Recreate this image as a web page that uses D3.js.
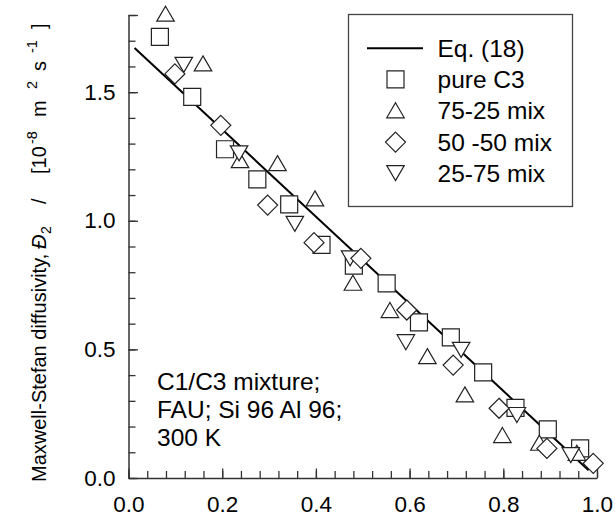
<!DOCTYPE html>
<html><head><meta charset="utf-8">
<script src="https://cdn.jsdelivr.net/npm/d3@7"></script>
<style>body{margin:0;background:#fff}svg text{font-family:Arial,"Liberation Sans",sans-serif;fill:#000}</style>
</head><body><svg id="c" width="615" height="519"></svg>
<script>
// ---- data ----
const eqX = [0.013, 0.982];
const eqY = [1.672, 0.030];
const pureC3X = [0.067, 0.136, 0.206, 0.275, 0.343, 0.412, 0.481, 0.551, 0.620, 0.688, 0.757, 0.826, 0.895, 0.964];
const pureC3Y = [1.715, 1.482, 1.278, 1.161, 1.064, 0.906, 0.826, 0.757, 0.605, 0.547, 0.411, 0.273, 0.189, 0.115];
const mix7525X = [0.079, 0.159, 0.238, 0.318, 0.398, 0.479, 0.558, 0.638, 0.718, 0.798, 0.877, 0.957];
const mix7525Y = [1.805, 1.612, 1.236, 1.224, 1.087, 0.759, 0.653, 0.474, 0.325, 0.167, 0.137, 0.098];
const mix5050X = [0.099, 0.197, 0.297, 0.396, 0.496, 0.594, 0.693, 0.791, 0.893, 0.992];
const mix5050Y = [1.571, 1.371, 1.061, 0.915, 0.854, 0.653, 0.439, 0.271, 0.115, 0.057];
const mix2575X = [0.118, 0.236, 0.355, 0.473, 0.592, 0.710, 0.829, 0.944];
const mix2575Y = [1.606, 1.262, 0.988, 0.854, 0.528, 0.498, 0.245, 0.089];
const xMajorTicks = [0, 0.2, 0.4, 0.6, 0.8, 1.0];
const xTickLabels = ["0.0", "0.2", "0.4", "0.6", "0.8", "1.0"];
const yMajorTicks = [0, 0.5, 1.0, 1.5];
const yTickLabels = ["0.0", "0.5", "1.0", "1.5"];
const legendLabels = ["Eq. (18)", "pure C3", "75-25 mix", "50 -50 mix", "25-75 mix"];
const noteLines = ["C1/C3 mixture;", "FAU; Si 96 Al 96;", "300 K"];

// ---- drawing ----
const svg = d3.select("#c");
const x = d3.scaleLinear().domain([0, 1]).range([128.5, 597]);
const y = d3.scaleLinear().domain([0, 1.8]).range([478, 15]);

const xMinor = d3.range(0, 1.0001, 0.04).map(v => +v.toFixed(2));
const yMinor = d3.range(0, 1.8001, 0.1).map(v => +v.toFixed(1));

// minor ticks
svg.append("g").attr("transform", `translate(0,${y(0)})`)
  .call(d3.axisBottom(x).tickValues(xMinor).tickSize(-7).tickSizeOuter(0).tickFormat(""))
  .call(g => g.select(".domain").remove());
svg.append("g").attr("transform", `translate(${x(0)},0)`)
  .call(d3.axisLeft(y).tickValues(yMinor).tickSize(-7).tickSizeOuter(0).tickFormat(""))
  .call(g => g.select(".domain").remove());
// major ticks + labels
svg.append("g").attr("transform", `translate(0,${y(0)})`)
  .call(d3.axisBottom(x).tickValues(xMajorTicks).tickSize(-9.5).tickSizeOuter(0).tickPadding(18)
    .tickFormat((d, i) => xTickLabels[i]));
svg.append("g").attr("transform", `translate(${x(0)},0)`)
  .call(d3.axisLeft(y).tickValues(yMajorTicks.concat([1.8])).tickSize(-9.5).tickSizeOuter(0).tickPadding(13)
    .tickFormat(d => { const i = yMajorTicks.indexOf(d); return i < 0 ? "" : yTickLabels[i]; }));
svg.selectAll(".tick line, .domain").attr("stroke", "#333").attr("stroke-width", 1.3);
svg.selectAll(".tick text").attr("font-size", 22.5).attr("font-family", "Arial, 'Liberation Sans', sans-serif");
svg.selectAll(".domain").attr("stroke-width", 1.5);

// marker shapes
const shape = {
  square: (s = 17) => `M${-s/2},${-s/2}h${s}v${s}h${-s}Z`,
  up: (w = 17.5, h = 15) => `M0,${-h/2}L${w/2},${h/2}L${-w/2},${h/2}Z`,
  down: (w = 17.5, h = 15) => `M0,${h/2}L${w/2},${-h/2}L${-w/2},${-h/2}Z`,
  diamond: (s = 10) => `M0,${-s}L${s},0L0,${s}L${-s},0Z`
};

// equation line
svg.append("path")
  .datum(d3.zip(eqX, eqY))
  .attr("d", d3.line().x(d => x(d[0])).y(d => y(d[1])))
  .attr("fill", "none").attr("stroke", "#000").attr("stroke-width", 2);

function drawSeries(xs, ys, path) {
  svg.append("g").selectAll("path").data(d3.zip(xs, ys)).join("path")
    .attr("d", path)
    .attr("transform", d => `translate(${x(d[0])},${y(d[1])})`)
    .attr("fill", "#fff").attr("stroke", "#222").attr("stroke-width", 1.2);
}
drawSeries(pureC3X, pureC3Y, shape.square());
drawSeries(mix7525X, mix7525Y, shape.up());
drawSeries(mix2575X, mix2575Y, shape.down());
drawSeries(mix5050X, mix5050Y, shape.diamond());

// legend
const lg = svg.append("g");
lg.append("rect").attr("x", 348.5).attr("y", 14.5).attr("width", 224).attr("height", 192)
  .attr("fill", "#fff").attr("stroke", "#444").attr("stroke-width", 1.3);
const legendBase = [56.7, 87.8, 118.8, 150.6, 181.6];
const legendShapes = [null, shape.square(), shape.up(), shape.diamond(), shape.down()];
legendLabels.forEach((lab, i) => {
  const cy = legendBase[i] - 8.5;
  if (i === 0) {
    lg.append("line").attr("x1", 367).attr("x2", 423).attr("y1", cy).attr("y2", cy)
      .attr("stroke", "#000").attr("stroke-width", 2);
  } else {
    lg.append("path").attr("d", legendShapes[i]).attr("transform", `translate(395.5,${cy})`)
      .attr("fill", "#fff").attr("stroke", "#222").attr("stroke-width", 1.2);
  }
  lg.append("text").attr("x", 437.5).attr("y", legendBase[i]).attr("font-size", 24.5).text(lab);
});

// annotation
noteLines.forEach((t, i) => {
  svg.append("text").attr("x", 157).attr("y", 390 + i * 28).attr("font-size", 24.5).text(t);
});

// y-axis title: pieces placed along the rotated baseline (screen y = start position)
const titleParts = [
  {t: "Maxwell-Stefan diffusivity,", at: 482, shift: 0, size: 20},
  {t: "Đ", at: 249, shift: 0, size: 20, italic: true},
  {t: "2", at: 234, shift: 5, size: 14},
  {t: "/", at: 204, shift: 0, size: 20},
  {t: "[10", at: 174, shift: 0, size: 20},
  {t: "-8", at: 144, shift: -9, size: 14.5},
  {t: "m", at: 117, shift: 0, size: 20},
  {t: "2", at: 89, shift: -9, size: 14.5},
  {t: "s", at: 71, shift: 0, size: 20},
  {t: "-1", at: 53, shift: -9, size: 14.5},
  {t: "]", at: 29, shift: 0, size: 20}
];
const tg = svg.append("g").attr("transform", "translate(46,0) rotate(-90)");
titleParts.forEach(p => {
  tg.append("text").attr("x", -p.at).attr("y", p.shift).attr("font-size", p.size)
    .attr("font-style", p.italic ? "italic" : null).text(p.t);
});
</script></body></html>
